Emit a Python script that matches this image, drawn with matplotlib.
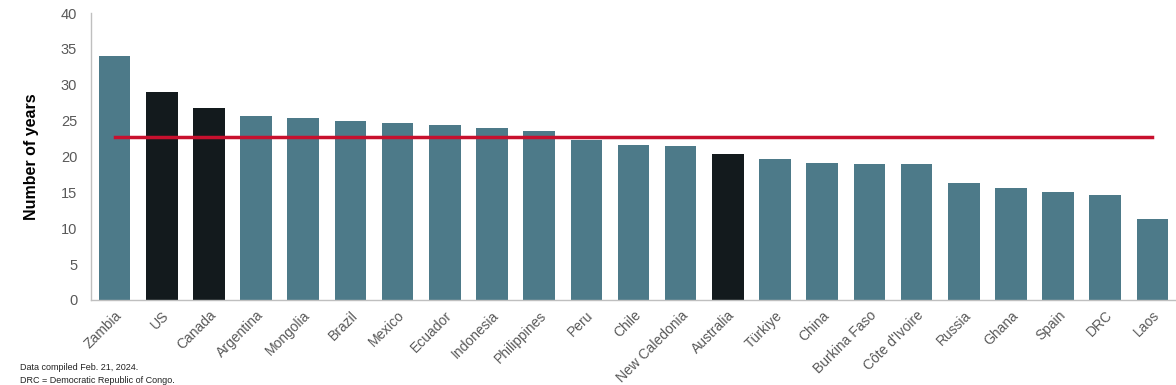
import matplotlib.pyplot as plt
import numpy as np

plt.rcParams['font.family'] = ['Liberation Sans', 'DejaVu Sans']

countries = ['Zambia', 'US', 'Canada', 'Argentina', 'Mongolia', 'Brazil', 'Mexico',
             'Ecuador', 'Indonesia', 'Philippines', 'Peru', 'Chile', 'New Caledonia',
             'Australia', 'Türkiye', 'China', 'Burkina Faso', "Côte d'Ivoire",
             'Russia', 'Ghana', 'Spain', 'DRC', 'Laos']
years = [34.0, 29.0, 26.8, 25.6, 25.4, 24.9, 24.7, 24.4, 24.0, 23.5, 22.3, 21.6,
         21.5, 20.3, 19.7, 19.1, 19.0, 19.0, 16.3, 15.6, 15.0, 14.7, 11.3]
highlight = ['US', 'Canada', 'Australia']
average = 22.7

teal = '#4d7a89'
dark = '#131a1d'
red = '#c8102e'

fig = plt.figure(figsize=(11.76, 3.85), dpi=100)
ax = fig.add_axes([0.0774, 0.221, 0.9226, 0.745])

x = np.arange(len(countries))
colors = [dark if c in highlight else teal for c in countries]
ax.bar(x, years, width=0.67, color=colors, zorder=2)
ax.plot([x[0], x[-1]], [average, average], color=red, linewidth=2.5, zorder=3)

ax.set_xlim(-0.5, len(countries) - 0.5)
ax.set_ylim(0, 40)
ax.set_yticks(range(0, 41, 5))
ax.set_xticks(x)
ax.set_xticklabels(countries, rotation=45, ha='right', rotation_mode='anchor')
ax.tick_params(axis='y', length=0, labelsize=10.5, labelcolor='#595959', pad=10)
ax.tick_params(axis='x', length=0, labelsize=10, labelcolor='#595959', pad=6)

for s in ['top', 'right']:
    ax.spines[s].set_visible(False)
for s in ['left', 'bottom']:
    ax.spines[s].set_color('#bfbfbf')
    ax.spines[s].set_linewidth(1)

ax.set_ylabel('Number of years', fontsize=11.5, fontweight='bold', labelpad=16)

# footnotes
fig.text(0.017, 0.04, 'Data compiled Feb. 21, 2024.', fontsize=6.5, color='#222222')
fig.text(0.017, 0.006, 'DRC = Democratic Republic of Congo.', fontsize=6.5, color='#222222')

fig.savefig('out.png', dpi=100)
